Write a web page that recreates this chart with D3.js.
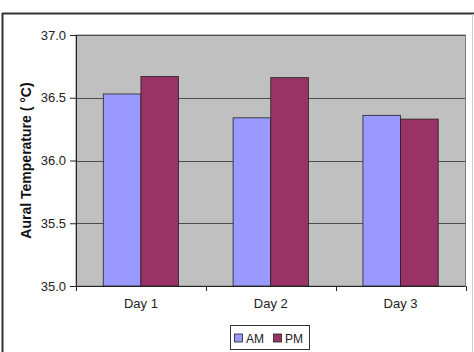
<!DOCTYPE html>
<html>
<head>
<meta charset="utf-8">
<script src="https://cdn.jsdelivr.net/npm/d3@7"></script>
<style>
  body { margin: 0; background: #fff; }
  svg { display: block; font-family: "Liberation Sans", Arial, sans-serif; }
</style>
</head>
<body>
<svg id="chart" width="474" height="352"></svg>
<script>
// Chart data
const days = ['Day 1', 'Day 2', 'Day 3'];
const seriesNames = ['AM', 'PM'];
const amValues = [36.53, 36.34, 36.36];
const pmValues = [36.67, 36.66, 36.33];
const yTicks = [35.0, 35.5, 36.0, 36.5, 37.0];
const seriesColors = ['#9999ff', '#993366'];

const svg = d3.select('#chart');
const margin = { top: 35, right: 8.5, bottom: 66, left: 76 };
const width = 474 - margin.left - margin.right;
const height = 352 - margin.top - margin.bottom;

// Outer frame
svg.append('line').attr('x1', 2.5).attr('y1', 13).attr('x2', 2.5).attr('y2', 352)
    .attr('stroke', '#333').attr('stroke-width', 2);
svg.append('line').attr('x1', 2).attr('y1', 13.5).attr('x2', 474).attr('y2', 13.5)
    .attr('stroke', '#333').attr('stroke-width', 2);
svg.append('line').attr('x1', 472.5).attr('y1', 14).attr('x2', 472.5).attr('y2', 352)
    .attr('stroke', '#ccc').attr('stroke-width', 1);

const g = svg.append('g')
    .attr('transform', `translate(${margin.left},${margin.top})`);

const x0 = d3.scaleBand().domain(days).range([0, width]).paddingInner(0).paddingOuter(0);
const x1 = d3.scaleBand().domain(seriesNames)
    .range([x0.bandwidth() * 0.21, x0.bandwidth() * 0.79]);
const y = d3.scaleLinear().domain([35, 37]).range([height, 0]);

// Plot background
g.append('rect')
    .attr('width', width).attr('height', height)
    .attr('fill', '#c0c0c0')
    .attr('stroke', '#808080').attr('stroke-width', 1);

// Gridlines
g.selectAll('.grid').data(yTicks.slice(1)).enter().append('line')
    .attr('x1', 0).attr('x2', width)
    .attr('y1', d => Math.round(y(d)) + 0.5).attr('y2', d => Math.round(y(d)) + 0.5)
    .attr('stroke', '#4d4d4d').attr('stroke-width', 1);

// Bars
const rows = days.map((d, i) => ({ day: d, values: [amValues[i], pmValues[i]] }));
const grp = g.selectAll('.day').data(rows).enter().append('g')
    .attr('transform', d => `translate(${x0(d.day)},0)`);
grp.selectAll('rect').data(d => d.values.map((v, j) => ({ key: seriesNames[j], v, j })))
    .enter().append('rect')
    .attr('x', d => x1(d.key))
    .attr('y', d => y(d.v))
    .attr('width', x1.bandwidth())
    .attr('height', d => height - y(d.v))
    .attr('fill', d => seriesColors[d.j])
    .attr('stroke', '#222').attr('stroke-width', 0.8);

// Y axis
const yAxis = d3.axisLeft(y).tickValues(yTicks).tickFormat(d3.format('.1f'))
    .tickSize(6).tickPadding(4);
const ya = g.append('g').call(yAxis);
ya.select('.domain').attr('stroke', '#222').attr('d', `M0.5,0V${height}`);
ya.selectAll('.tick line').attr('stroke', '#222');
ya.selectAll('text').attr('font-size', 13).attr('fill', '#222')
    .attr('font-family', '"Liberation Sans", Arial, sans-serif');

// X axis
const xa = g.append('g').attr('transform', `translate(0,${height})`);
xa.append('line').attr('x1', -5).attr('x2', width).attr('y1', 0.5).attr('y2', 0.5)
    .attr('stroke', '#222');
xa.selectAll('.xt').data(d3.range(days.length + 1)).enter().append('line')
    .attr('x1', i => Math.round(i * x0.step()) + 0.5)
    .attr('x2', i => Math.round(i * x0.step()) + 0.5)
    .attr('y1', 0).attr('y2', 5).attr('stroke', '#222');
xa.selectAll('.xl').data(days).enter().append('text')
    .attr('x', d => x0(d) + x0.bandwidth() / 2)
    .attr('y', 21.5)
    .attr('text-anchor', 'middle')
    .attr('font-size', 13).attr('fill', '#222')
    .text(d => d);

// Y axis title
svg.append('text')
    .attr('transform', `translate(31,${margin.top + height / 2}) rotate(-90)`)
    .attr('text-anchor', 'middle')
    .attr('font-size', 14).attr('font-weight', 'bold').attr('fill', '#111')
    .text('Aural Temperature ( °C)');

// Legend
const lg = svg.append('g').attr('transform', 'translate(230.5,325.5)');
lg.append('rect').attr('width', 79).attr('height', 24)
    .attr('fill', '#fff').attr('stroke', '#333');
seriesNames.forEach((s, i) => {
    const ox = 4 + i * 39;
    lg.append('rect').attr('x', ox).attr('y', 8.5).attr('width', 8).attr('height', 8)
        .attr('fill', seriesColors[i]).attr('stroke', '#222').attr('stroke-width', 0.8);
    lg.append('text').attr('x', ox + 11.5).attr('y', 17)
        .attr('font-size', 12).attr('fill', '#222').text(s);
});
</script>
</body>
</html>
